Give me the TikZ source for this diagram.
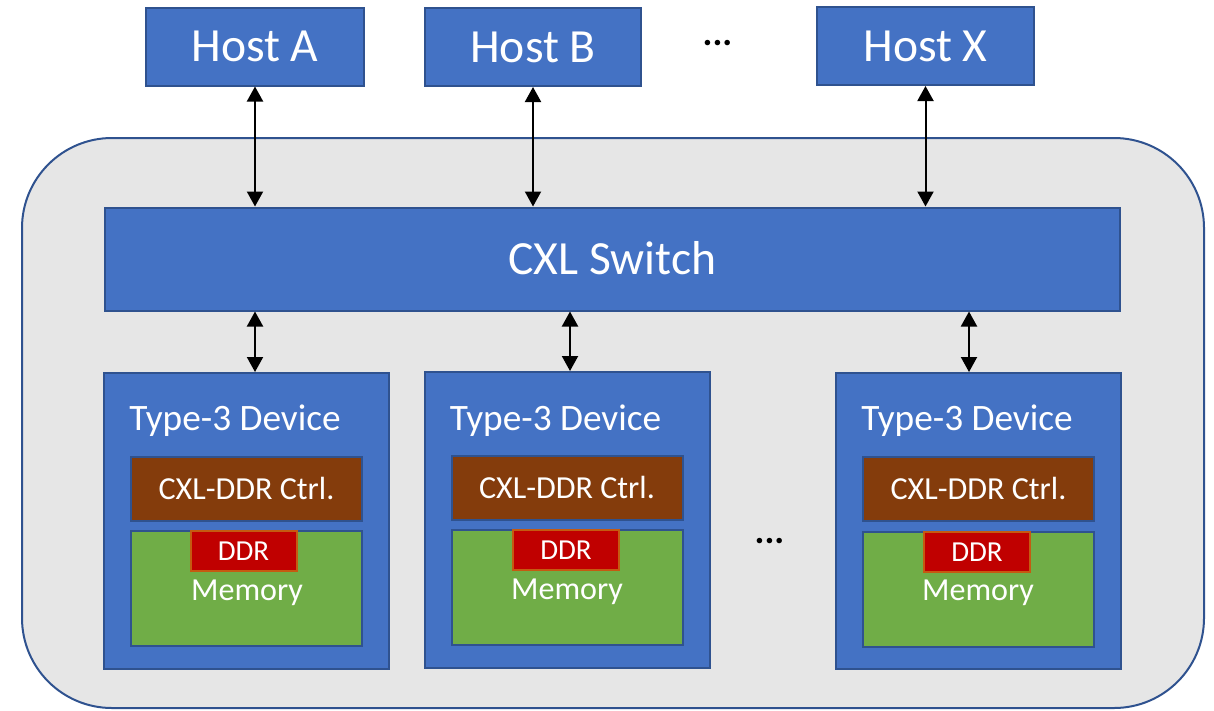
\documentclass[tikz,border=0pt]{standalone}
\usepackage{fontspec}
\setmainfont{Carlito}
\usetikzlibrary{arrows.meta}

\definecolor{cxlblue}{HTML}{4472C4}
\definecolor{cxledge}{HTML}{2F528F}
\definecolor{panel}{HTML}{E6E6E6}
\definecolor{ctrlbrown}{HTML}{843C0C}
\definecolor{memgreen}{HTML}{70AD47}
\definecolor{ddrred}{HTML}{C00000}
\definecolor{ddredge}{HTML}{C55A11}

\begin{document}
\begin{tikzpicture}[x=1pt,y=-1pt,
  % text boxes sized to cap height so that capitals sit centred
  big/.style={font=\fontsize{47.6}{52}\selectfont, text height=30.5pt, text depth=0pt},
  mid/.style={font=\fontsize{37.3}{40}\selectfont, text height=23.8pt, text depth=0pt},
  sml/.style={font=\fontsize{32.1}{36}\selectfont, text height=20.7pt, text depth=0pt},
  tiny/.style={font=\fontsize{29}{32}\selectfont, text height=18.6pt, text depth=0pt},
  blk/.style={draw=cxledge, line width=2pt, fill=cxlblue, text=white, inner sep=0pt},
  ctrl/.style={draw=cxledge, line width=2pt, fill=ctrlbrown, text=white,
               inner sep=0pt, sml, minimum width=231pt, minimum height=64pt},
  mem/.style={draw=cxledge, line width=2pt, fill=memgreen,
              inner sep=0pt, minimum width=231pt, minimum height=115pt},
  ddr/.style={draw=ddredge, line width=2pt, fill=ddrred, text=white,
              inner sep=0pt, tiny, minimum width=106pt, minimum height=40pt},
  lbl/.style={text=white, inner sep=0pt},
  hostbox/.style={blk, big, minimum height=78pt},
  devbox/.style={blk, minimum width=285pt, minimum height=296pt},
  biarrow/.style={line width=2pt, black,
                  {Triangle[width=16pt,length=15pt]}-{Triangle[width=16pt,length=15pt]}},
  gap/.style={inner sep=0pt, anchor=base, font=\fontsize{37}{40}\selectfont\bfseries}
]
\useasboundingbox (0,0) rectangle (1214,710);

% enclosure
\node (chassis) [draw=cxledge, line width=2pt, fill=panel, rounded corners=90pt,
      minimum width=1182pt, minimum height=570pt, inner sep=0pt] at (613,423) {};

% hosts
\node (hA) [hostbox, minimum width=218pt] at (255,46.5) {Host A};
\node (hB) [hostbox, minimum width=216pt] at (533,47) {Host B};
\node (hX) [hostbox, minimum width=217pt] at (925.5,46) {Host X};
\node (hdots) [gap] at (717.5,45) {...};

% switch
\node (sw) [blk, big, minimum width=1015pt, minimum height=103pt] at (612.5,259) {CXL Switch};

% device 1
\node (d1) [devbox] at (246.5,521) {};
\node (t1) [lbl, mid] at (235,418.5) {Type-3 Device};
\node (c1) [ctrl] at (246.5,489) {CXL-DDR Ctrl.};
\node (m1) [mem] at (246.5,588.5) {};
\node (r1) [ddr] at (243.5,551) {DDR};
\node (ml1) [lbl, sml] at (247,590) {Memory};

% device 2
\node (d2) [devbox] at (567,520) {};
\node (t2) [lbl, mid] at (555.5,418.5) {Type-3 Device};
\node (c2) [ctrl] at (567,488) {CXL-DDR Ctrl.};
\node (m2) [mem] at (567,587.5) {};
\node (r2) [ddr] at (566,550) {DDR};
\node (ml2) [lbl, sml] at (567,589) {Memory};

\node (ddots) [gap] at (769.5,543) {...};

% device 3
\node (d3) [devbox] at (978.5,521) {};
\node (t3) [lbl, mid] at (967,418.5) {Type-3 Device};
\node (c3) [ctrl] at (978.5,489) {CXL-DDR Ctrl.};
\node (m3) [mem] at (978,589) {};
\node (r3) [ddr] at (977,552) {DDR};
\node (ml3) [lbl, sml] at (978,590.5) {Memory};

% host links
\draw[biarrow] (hA.south) -- (hA.south |- sw.north);
\draw[biarrow] (hB.south) -- (hB.south |- sw.north);
\draw[biarrow] (hX.south) -- (hX.south |- sw.north);

% device links
\coordinate (k1) at (255,0);
\coordinate (k2) at (570,0);
\coordinate (k3) at (969,0);
\draw[biarrow] (sw.south -| k1) -- (d1.north -| k1);
\draw[biarrow] (sw.south -| k2) -- (d2.north -| k2);
\draw[biarrow] (sw.south -| k3) -- (d3.north -| k3);
\end{tikzpicture}
\end{document}
